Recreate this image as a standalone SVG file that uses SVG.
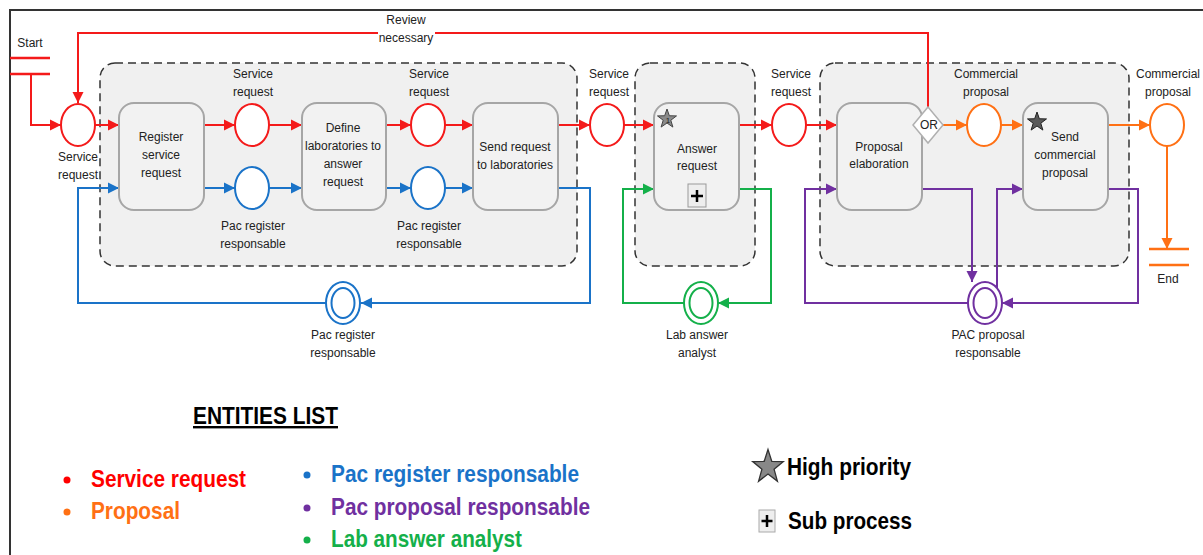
<svg xmlns="http://www.w3.org/2000/svg" width="1203" height="555" viewBox="0 0 1203 555">
<style>
  .lbl{font-family:"Liberation Sans",Arial,sans-serif;font-size:12px;fill:#222;text-anchor:middle}
  .grp{fill:#f0f0f0;stroke:#333;stroke-width:1.5;stroke-dasharray:8 5}
  .task{fill:#f2f2f2;stroke:#a6a6a6;stroke-width:2}
  .ev{fill:#fff;stroke-width:2}
  .c{fill:none;stroke-width:2}
  .red{stroke:#f41a1a}
  .org{stroke:#ff7014}
  .blu{stroke:#1a73c8}
  .grn{stroke:#14b04a}
  .pur{stroke:#7030a0}
  .leg{font-family:"Liberation Sans",Arial,sans-serif;font-weight:bold;font-size:24px}
</style>
<defs>
  <marker id="aR" viewBox="0 0 10 10" refX="10" refY="5" markerWidth="11" markerHeight="12" markerUnits="userSpaceOnUse" orient="auto"><path d="M0,0 L10,5 L0,10 z" fill="#f41a1a"/></marker>
  <marker id="aO" viewBox="0 0 10 10" refX="10" refY="5" markerWidth="11" markerHeight="12" markerUnits="userSpaceOnUse" orient="auto"><path d="M0,0 L10,5 L0,10 z" fill="#ff7014"/></marker>
  <marker id="aB" viewBox="0 0 10 10" refX="10" refY="5" markerWidth="11" markerHeight="12" markerUnits="userSpaceOnUse" orient="auto"><path d="M0,0 L10,5 L0,10 z" fill="#1a73c8"/></marker>
  <marker id="aG" viewBox="0 0 10 10" refX="10" refY="5" markerWidth="11" markerHeight="12" markerUnits="userSpaceOnUse" orient="auto"><path d="M0,0 L10,5 L0,10 z" fill="#14b04a"/></marker>
  <marker id="aP" viewBox="0 0 10 10" refX="10" refY="5" markerWidth="11" markerHeight="12" markerUnits="userSpaceOnUse" orient="auto"><path d="M0,0 L10,5 L0,10 z" fill="#7030a0"/></marker>
  <polygon id="star" points="0,-10 2.35,-3.24 9.51,-3.09 3.8,1.24 5.88,8.09 0,4 -5.88,8.09 -3.8,1.24 -9.51,-3.09 -2.35,-3.24"/>
</defs>

<!-- frame -->
<path d="M10,555 V10 H1203" fill="none" stroke="#333" stroke-width="2"/>

<!-- groups (dashed) -->
<rect class="grp" x="100" y="63" width="477" height="203" rx="15"/>
<rect class="grp" x="635" y="63" width="120" height="203" rx="15"/>
<rect class="grp" x="820" y="63" width="309" height="203" rx="15"/>

<!-- connectors -->
<g id="connectors">
  <path class="c red" d="M31,74 V125 H61" marker-end="url(#aR)"/>
  <path class="c red" d="M928,107 V33 H435 M378,33 H78 V103" marker-end="url(#aR)"/>
  <path class="c red" d="M95,125 H119" marker-end="url(#aR)"/>
  <path class="c red" d="M204,125 H235" marker-end="url(#aR)"/>
  <path class="c red" d="M269,125 H302" marker-end="url(#aR)"/>
  <path class="c red" d="M386,125 H411" marker-end="url(#aR)"/>
  <path class="c red" d="M445,125 H473" marker-end="url(#aR)"/>
  <path class="c red" d="M558,125 H590" marker-end="url(#aR)"/>
  <path class="c red" d="M624,125 H654" marker-end="url(#aR)"/>
  <path class="c red" d="M739,125 H772" marker-end="url(#aR)"/>
  <path class="c red" d="M806,125 H837" marker-end="url(#aR)"/>

  <path class="c org" d="M943,125 H967" marker-end="url(#aO)"/>
  <path class="c org" d="M1001,125 H1023" marker-end="url(#aO)"/>
  <path class="c org" d="M1108,125 H1150" marker-end="url(#aO)"/>
  <path class="c org" d="M1167,146 V249" marker-end="url(#aO)"/>

  <path class="c blu" d="M204,188 H235" marker-end="url(#aB)"/>
  <path class="c blu" d="M269,188 H302" marker-end="url(#aB)"/>
  <path class="c blu" d="M386,188 H411" marker-end="url(#aB)"/>
  <path class="c blu" d="M445,188 H473" marker-end="url(#aB)"/>
  <path class="c blu" d="M558,188 H590 V303 H361" marker-end="url(#aB)"/>
  <path class="c blu" d="M326,303 H78 V188 H119" marker-end="url(#aB)"/>

  <path class="c grn" d="M739,189 H771 V303 H718" marker-end="url(#aG)"/>
  <path class="c grn" d="M684,303 H623 V189 H654" marker-end="url(#aG)"/>

  <path class="c pur" d="M922,189 H972 V282" marker-end="url(#aP)"/>
  <path class="c pur" d="M1108,189 H1138 V303 H1002" marker-end="url(#aP)"/>
  <path class="c pur" d="M968,303 H805 V189 H837" marker-end="url(#aP)"/>
  <path class="c pur" d="M997,288 V189 H1023" marker-end="url(#aP)"/>
</g>

<!-- start / end -->
<g id="start">
  <path d="M10,58 H50 M10,74 H50" stroke="#f41a1a" stroke-width="2.5"/>
  <text class="lbl" x="30" y="47">Start</text>
</g>
<g id="end">
  <path d="M1149,249 H1189 M1149,265 H1189" stroke="#ff7014" stroke-width="2.5"/>
  <text class="lbl" x="1168" y="283">End</text>
</g>
<g id="review-label">
  <text class="lbl" x="406" y="24">Review</text>
  <text class="lbl" x="406" y="42">necessary</text>
</g>

<!-- events -->
<g id="ev-sr0"><ellipse class="ev red" cx="78" cy="125" rx="17" ry="21"/>
  <text class="lbl" x="78" y="161">Service</text><text class="lbl" x="78" y="179">request</text></g>
<g id="ev-sr1"><ellipse class="ev red" cx="252" cy="125" rx="17" ry="21"/>
  <text class="lbl" x="253" y="78">Service</text><text class="lbl" x="253" y="96">request</text></g>
<g id="ev-pr1"><ellipse class="ev blu" cx="252" cy="188" rx="17" ry="21"/>
  <text class="lbl" x="253" y="230">Pac register</text><text class="lbl" x="253" y="248">responsable</text></g>
<g id="ev-sr2"><ellipse class="ev red" cx="428" cy="125" rx="17" ry="21"/>
  <text class="lbl" x="429" y="78">Service</text><text class="lbl" x="429" y="96">request</text></g>
<g id="ev-pr2"><ellipse class="ev blu" cx="428" cy="188" rx="17" ry="21"/>
  <text class="lbl" x="429" y="230">Pac register</text><text class="lbl" x="429" y="248">responsable</text></g>
<g id="ev-sr3"><ellipse class="ev red" cx="607" cy="125" rx="17" ry="21"/>
  <text class="lbl" x="609" y="78">Service</text><text class="lbl" x="609" y="96">request</text></g>
<g id="ev-sr4"><ellipse class="ev red" cx="789" cy="125" rx="17" ry="21"/>
  <text class="lbl" x="791" y="78">Service</text><text class="lbl" x="791" y="96">request</text></g>
<g id="ev-cp1"><ellipse class="ev org" cx="984" cy="125" rx="17" ry="21"/>
  <text class="lbl" x="986" y="78">Commercial</text><text class="lbl" x="986" y="96">proposal</text></g>
<g id="ev-cp2"><ellipse class="ev org" cx="1167" cy="125" rx="17" ry="21"/>
  <text class="lbl" x="1168" y="78">Commercial</text><text class="lbl" x="1168" y="96">proposal</text></g>

<g id="ev-pac-reg"><ellipse class="ev blu" cx="343" cy="303" rx="17" ry="21"/><ellipse class="c blu" cx="343" cy="303" rx="11.5" ry="15"/>
  <text class="lbl" x="343" y="339">Pac register</text><text class="lbl" x="343" y="357">responsable</text></g>
<g id="ev-lab"><ellipse class="ev grn" cx="701" cy="303" rx="17" ry="21"/><ellipse class="c grn" cx="701" cy="303" rx="11.5" ry="15"/>
  <text class="lbl" x="697" y="339">Lab answer</text><text class="lbl" x="697" y="357">analyst</text></g>
<g id="ev-pac-prop"><ellipse class="ev pur" cx="985" cy="303" rx="17" ry="21"/><ellipse class="c pur" cx="985" cy="303" rx="11.5" ry="15"/>
  <text class="lbl" x="988" y="339">PAC proposal</text><text class="lbl" x="988" y="357">responsable</text></g>

<!-- tasks -->
<g id="t-register"><rect class="task" x="119" y="103" width="85" height="107" rx="15"/>
  <text class="lbl" x="161" y="141">Register</text><text class="lbl" x="161" y="159">service</text><text class="lbl" x="161" y="177">request</text></g>
<g id="t-define"><rect class="task" x="302" y="103" width="84" height="107" rx="15"/>
  <text class="lbl" x="343" y="132">Define</text><text class="lbl" x="343" y="150">laboratories to</text><text class="lbl" x="343" y="168">answer</text><text class="lbl" x="343" y="186">request</text></g>
<g id="t-send"><rect class="task" x="473" y="103" width="85" height="107" rx="15"/>
  <text class="lbl" x="515" y="151">Send request</text><text class="lbl" x="515" y="169">to laboratories</text></g>
<g id="t-answer"><rect class="task" x="654" y="103" width="85" height="107" rx="15"/>
  <use href="#star" transform="translate(667,119)" fill="#8a8a8a" stroke="#444" stroke-width="1"/>
  <text x="668" y="123" style="font-family:'Liberation Sans',Arial,sans-serif;font-size:8px;fill:#222" text-anchor="middle">1</text>
  <text class="lbl" x="697" y="153">Answer</text><text class="lbl" x="697" y="170">request</text>
  <rect x="688" y="184" width="18" height="23" fill="#eeeeee" stroke="#999" stroke-width="1"/>
  <path d="M697,190 V202 M691,196 H703" stroke="#000" stroke-width="2.5"/></g>
<g id="t-proposal"><rect class="task" x="837" y="103" width="85" height="107" rx="15"/>
  <text class="lbl" x="879" y="151">Proposal</text><text class="lbl" x="879" y="168">elaboration</text></g>
<g id="gw-or"><polygon points="928,107 943,125 928,143 913,125" fill="#fff" stroke="#b0b0b0" stroke-width="1.5"/>
  <text class="lbl" x="929" y="129">OR</text></g>
<g id="t-sendcp"><rect class="task" x="1023" y="103" width="85" height="107" rx="15"/>
  <use href="#star" transform="translate(1037,122)" fill="#5a5a5a" stroke="#222" stroke-width="1"/>
  <text class="lbl" x="1065" y="141">Send</text><text class="lbl" x="1065" y="159">commercial</text><text class="lbl" x="1065" y="177">proposal</text></g>

<!-- legend -->
<g id="legend">
  <text class="leg" x="193" y="424" fill="#000" textLength="145" lengthAdjust="spacingAndGlyphs" text-decoration="underline">ENTITIES LIST</text>
  <circle cx="67" cy="480" r="3.5" fill="#ff0000"/>
  <text class="leg" x="91" y="487" fill="#ff0000" textLength="155" lengthAdjust="spacingAndGlyphs">Service request</text>
  <circle cx="67" cy="512" r="3.5" fill="#ff7014"/>
  <text class="leg" x="91" y="519" fill="#ff7014" textLength="89" lengthAdjust="spacingAndGlyphs">Proposal</text>
  <circle cx="307" cy="475" r="3.5" fill="#1a73c8"/>
  <text class="leg" x="331" y="482" fill="#1a73c8" textLength="248" lengthAdjust="spacingAndGlyphs">Pac register responsable</text>
  <circle cx="307" cy="508" r="3.5" fill="#7030a0"/>
  <text class="leg" x="331" y="515" fill="#7030a0" textLength="259" lengthAdjust="spacingAndGlyphs">Pac proposal responsable</text>
  <circle cx="307" cy="540" r="3.5" fill="#14b04a"/>
  <text class="leg" x="331" y="547" fill="#14b04a" textLength="191" lengthAdjust="spacingAndGlyphs">Lab answer analyst</text>

  <use href="#star" transform="translate(768,467) scale(1.6,1.75)" fill="#888" stroke="#333" stroke-width="0.8"/>
  <text class="leg" x="787" y="475" fill="#000" font-size="23" textLength="124" lengthAdjust="spacingAndGlyphs" style="font-size:23px">High priority</text>
  <rect x="759" y="510" width="16" height="22" fill="#eeeeee" stroke="#aaa" stroke-width="1"/>
  <path d="M767,515 V527 M761.5,521 H772.5" stroke="#000" stroke-width="2.5"/>
  <text class="leg" x="788" y="529" fill="#000" textLength="124" lengthAdjust="spacingAndGlyphs" style="font-size:23px">Sub process</text>
</g>
</svg>
